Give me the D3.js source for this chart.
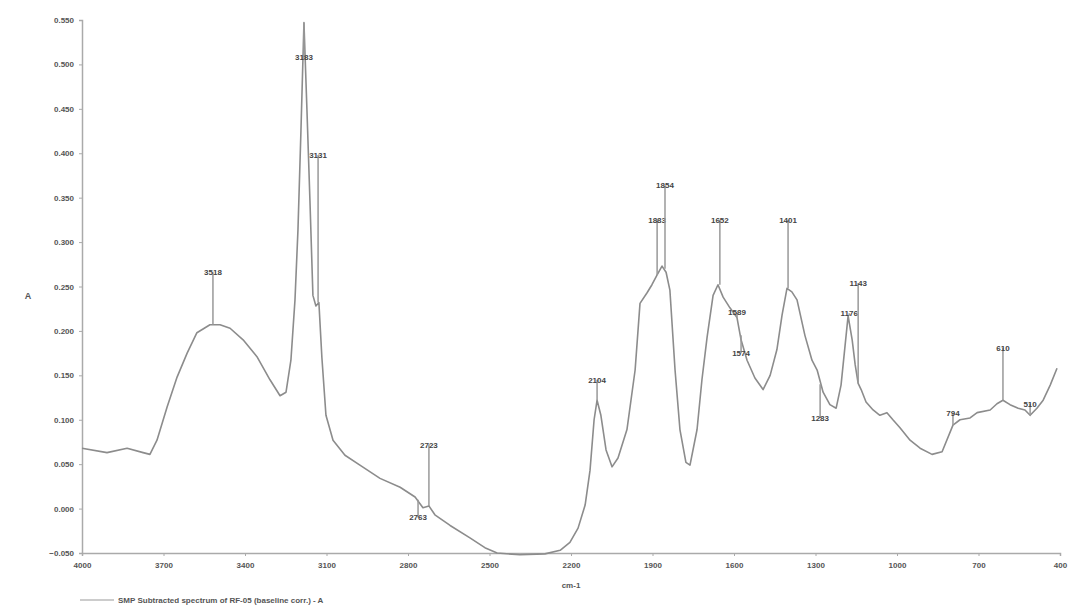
<!DOCTYPE html>
<html>
<head>
<meta charset="utf-8">
<script src="https://cdn.jsdelivr.net/npm/d3@7"></script>
<style>
  body { margin: 0; background: #fff; }
  svg { font-family: "Liberation Sans", Arial, sans-serif; }
  .axis path, .axis line { stroke: #aaa; }
  .axis text { fill: #555; font-size: 8px; font-weight: bold; }
</style>
</head>
<body>
<div id="chart"></div>
<script>
// wavenumber (cm-1) and absorbance
var wavenumbers = [4000, 3908, 3834, 3775, 3750, 3724, 3687, 3650, 3613, 3577, 3529, 3492, 3455, 3407, 3356, 3308,
    3271, 3249, 3231, 3216, 3205, 3194, 3183, 3172, 3161, 3150, 3139, 3128, 3117, 3102, 3076, 3032, 2977, 2903,
    2829, 2774, 2745, 2723, 2701, 2645, 2572, 2517, 2472, 2388, 2296, 2240, 2204, 2174, 2148, 2130, 2115, 2104,
    2090, 2071, 2049, 2027, 1994, 1964, 1946, 1920, 1902, 1883, 1865, 1850, 1836, 1817, 1799, 1777, 1762, 1736,
    1718, 1699, 1677, 1659, 1640, 1615, 1589, 1574, 1552, 1523, 1493, 1467, 1442, 1423, 1405, 1387, 1368, 1339,
    1313, 1294, 1272, 1247, 1224, 1206, 1180, 1165, 1154, 1143, 1132, 1114, 1088, 1063, 1037, 1015, 989, 952,
    915, 871, 834, 794, 768, 731, 705, 657, 632, 610, 584, 554, 529, 510, 485, 462, 436, 411];
var absorbance = [0.068, 0.063, 0.068, 0.063, 0.061, 0.077, 0.114, 0.148, 0.175, 0.198, 0.207, 0.207, 0.203, 0.190, 0.171, 0.145,
    0.127, 0.131, 0.167, 0.235, 0.314, 0.426, 0.547, 0.449, 0.347, 0.240, 0.228, 0.232, 0.170, 0.105, 0.077, 0.060, 0.049, 0.034,
    0.024, 0.013, 0.001, 0.003, -0.007, -0.019, -0.033, -0.044, -0.050, -0.052, -0.051, -0.047, -0.038, -0.022, 0.004, 0.043, 0.100, 0.122,
    0.105, 0.066, 0.047, 0.057, 0.089, 0.156, 0.231, 0.243, 0.252, 0.263, 0.273, 0.266, 0.246, 0.156, 0.089, 0.052, 0.049, 0.089,
    0.145, 0.193, 0.240, 0.252, 0.238, 0.226, 0.215, 0.190, 0.167, 0.147, 0.134, 0.150, 0.179, 0.218, 0.248, 0.244, 0.235, 0.195,
    0.167, 0.156, 0.131, 0.117, 0.113, 0.139, 0.217, 0.190, 0.162, 0.141, 0.134, 0.120, 0.111, 0.105, 0.108, 0.100, 0.091, 0.077,
    0.068, 0.061, 0.064, 0.094, 0.100, 0.102, 0.108, 0.111, 0.118, 0.122, 0.117, 0.113, 0.111, 0.105, 0.113, 0.122, 0.139, 0.158];

// picked peaks: position, absorbance at the peak, height of the label
var peakWavenumbers = [3518, 3183, 3131, 2763, 2723, 2104, 1883, 1854, 1652, 1589, 1574, 1401, 1283, 1176, 1143, 794, 610, 510];
var peakAbsorbance  = [0.207, 0.547, 0.232, 0.010, 0.003, 0.122, 0.263, 0.270, 0.252, 0.215, 0.195, 0.248, 0.140, 0.217, 0.141, 0.094, 0.122, 0.105];
var peakLabelLevels = [0.266, 0.508, 0.398, -0.010, 0.072, 0.145, 0.325, 0.364, 0.325, 0.221, 0.175, 0.325, 0.102, 0.220, 0.254, 0.108, 0.181, 0.118];

var xTicks = [4000, 3700, 3400, 3100, 2800, 2500, 2200, 1900, 1600, 1300, 1000, 700, 400];
var yTicks = [-0.05, 0, 0.05, 0.1, 0.15, 0.2, 0.25, 0.3, 0.35, 0.4, 0.45, 0.5, 0.55];
var legendLabel = 'SMP Subtracted spectrum of RF-05 (baseline corr.) - A';

var data = wavenumbers.map((w, i) => ({ wn: w, value: absorbance[i] }));
var peaks = peakWavenumbers.map((w, i) => ({ wn: w, value: peakAbsorbance[i], label: peakLabelLevels[i] }));

var width = 1078, height = 614;
var margin = {top: 20, right: 18, bottom: 61, left: 82};

var x = d3.scaleLinear().domain([4000, 400]).range([margin.left, width - margin.right]);
var y = d3.scaleLinear().domain([-0.05, 0.55]).range([height - margin.bottom, margin.top]);

var svg = d3.select('#chart').append('svg')
    .attr('width', width)
    .attr('height', height);

svg.append('g')
    .attr('class', 'x axis')
    .attr('transform', 'translate(0,' + (height - margin.bottom) + ')')
    .call(d3.axisBottom(x).tickValues(xTicks).tickFormat(d3.format('d')).tickSize(3).tickPadding(6));

svg.append('g')
    .attr('class', 'y axis')
    .attr('transform', 'translate(' + margin.left + ',0)')
    .call(d3.axisLeft(y).tickValues(yTicks).tickFormat(d3.format('.3f')).tickSize(3).tickPadding(5));

svg.selectAll('.axis .domain').attr('stroke-width', 1.5);

// axis titles
svg.append('text')
    .attr('x', (x.range()[0] + x.range()[1]) / 2)
    .attr('y', height - margin.bottom + 35)
    .attr('text-anchor', 'middle')
    .attr('fill', '#555')
    .attr('font-size', 8)
    .attr('font-weight', 'bold')
    .text('cm-1');

svg.append('text')
    .attr('x', 28)
    .attr('y', (y.range()[0] + y.range()[1]) / 2 + 12)
    .attr('text-anchor', 'middle')
    .attr('fill', '#555')
    .attr('font-size', 9)
    .attr('font-weight', 'bold')
    .text('A');

// spectrum
var valueLine = d3.line()
    .x((d) => x(d.wn))
    .y((d) => y(d.value));

svg.append('path')
    .datum(data)
    .attr('fill', 'none')
    .attr('stroke', '#8c8c8c')
    .attr('stroke-width', 1.6)
    .attr('stroke-linejoin', 'round')
    .attr('d', valueLine);

// peak markers
var pk = svg.append('g').selectAll('g').data(peaks).join('g');

pk.append('line')
    .attr('x1', (d) => x(d.wn))
    .attr('x2', (d) => x(d.wn))
    .attr('y1', (d) => y(d.value))
    .attr('y2', (d) => y(d.label))
    .attr('stroke', '#999')
    .attr('stroke-width', 1.5);

pk.append('text')
    .attr('x', (d) => x(d.wn))
    .attr('y', (d) => y(d.label) + 3)
    .attr('text-anchor', 'middle')
    .attr('fill', '#444')
    .attr('font-size', 8)
    .attr('font-weight', 'bold')
    .text((d) => d3.format('d')(d.wn));

// legend
var lg = svg.append('g').attr('transform', 'translate(80,' + (height - 14) + ')');
lg.append('line')
    .attr('x1', 0).attr('x2', 34)
    .attr('stroke', '#bbb')
    .attr('stroke-width', 1.5);
lg.append('text')
    .attr('x', 38)
    .attr('y', 3)
    .attr('fill', '#555')
    .attr('font-size', 8)
    .attr('font-weight', 'bold')
    .text(legendLabel);
</script>
</body>
</html>
